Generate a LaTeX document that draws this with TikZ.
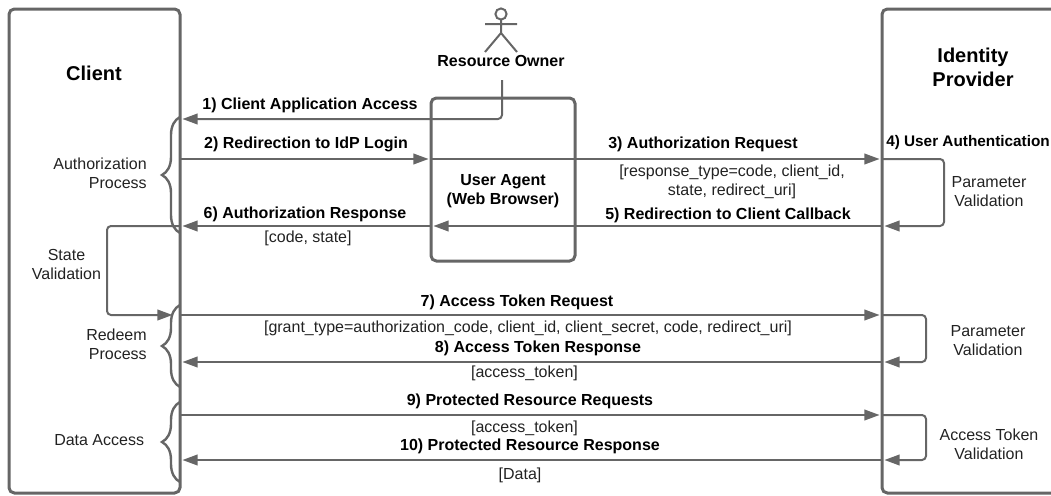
\documentclass[tikz,border=0pt]{standalone}
\usepackage{fontspec}
\setmainfont{Liberation Sans}
\usetikzlibrary{arrows.meta,fit,decorations.pathreplacing}
\definecolor{linegray}{HTML}{666666}
\definecolor{inkgray}{HTML}{222222}

\begin{document}
\begin{tikzpicture}[x=0.75pt,y=-0.75pt,
    box/.style={draw=linegray,line width=2.25pt,rounded corners=4pt,inner sep=0pt,outer sep=0pt},
    flow/.style={draw=linegray,line width=1.5pt,rounded corners=3pt,shorten >=1.8pt,
        -{Triangle[length=11.5pt,width=8pt]}},
    curly/.style={draw=linegray,line width=1.8pt,decorate,
        decoration={brace,amplitude=13.5pt}},
    msg/.style={font=\fontsize{12}{14.25}\selectfont\bfseries,text=black,inner sep=0pt,align=center},
    note/.style={font=\fontsize{12}{14.25}\selectfont,text=inkgray,inner sep=0pt,align=center},
    title/.style={font=\fontsize{15}{18}\selectfont\bfseries,text=black,inner sep=0pt,align=center}]
    \useasboundingbox (0,0) rectangle (1051,496);
    \tikzset{actor/.pic={
        \draw[linegray,line width=1.5pt] (0,14) circle (4.2pt);
        \draw[linegray,line width=1.5pt] (0,20) -- (0,33) (-16,24) -- (16,24) (-16,52) -- (0,33) -- (16,52);
    }}

    \node[box,fit={(9,9) (180,493)}] (client) {};
    \node[box,fit={(882,9) (1075,493)}] (idp) {};
    \node[box,fit={(431,98) (575,261)}] (agent) {};
    \draw (501,0) pic {actor};

    \foreach \name/\y in {rowa/119,rowb/159,rowf/226,rowg/315,rowh/362,rowi/415,rowj/460}{
        \coordinate (\name) at (0,\y);
    }
    \coordinate (ownerout) at (502,80);
    \coordinate (stateleft) at (107,0);
    \coordinate (statein) at (175,315);
    \coordinate (loopa) at (944,0);
    \coordinate (loopb) at (926,0);

    \draw[flow] (ownerout) -- (ownerout |- rowa) -- (client.east |- rowa);
    \draw[flow] (client.east |- rowb) -- (agent.west |- rowb);
    \draw[flow] (agent.west |- rowb) -- (idp.west |- rowb);
    \draw[flow] (idp.west |- rowb) -- (loopa |- rowb) -- (loopa |- rowf) -- (idp.west |- rowf);
    \draw[flow] (idp.west |- rowf) -- (agent.west |- rowf);
    \draw[flow] (agent.west |- rowf) -- (client.east |- rowf);
    \draw[flow] (client.east |- rowf) -- (stateleft |- rowf) -- (stateleft |- rowg) -- (statein);
    \draw[flow] (client.east |- rowg) -- (idp.west |- rowg);
    \draw[flow] (idp.west |- rowg) -- (loopb |- rowg) -- (loopb |- rowh) -- (idp.west |- rowh);
    \draw[flow] (idp.west |- rowh) -- (client.east |- rowh);
    \draw[flow] (client.east |- rowi) -- (idp.west |- rowi);
    \draw[flow] (idp.west |- rowi) -- (loopb |- rowi) -- (loopb |- rowj) -- (idp.west |- rowj);
    \draw[flow] (idp.west |- rowj) -- (client.east |- rowj);

    \foreach \low/\high in {233/117,387/305,482/402}{
        \draw[curly] (180,\low) -- (180,\high);
    }

    \node[title] (clientname) at (94,73) {Client};
    \node[title] (idpname) at (973,67) {Identity\\Provider};
    \node[msg] (ownername) at (501,61) {Resource Owner};
    \node[msg] (agentname) at (503,191.5) {User Agent\\(Web Browser)};

    \node[note,anchor=east,align=right] (authproc) at (147,173) {Authorization\\Process};
    \node[note] (stateval) at (66.5,264.5) {State\\Validation};
    \node[note,anchor=east,align=right] (redeemproc) at (147,344.5) {Redeem\\Process};
    \node[note,anchor=west] (dataacc) at (54,440.5) {Data Access};
    \node[note] (paramvala) at (989,191.5) {Parameter\\Validation};
    \node[note] (paramvalb) at (988,341) {Parameter\\Validation};
    \node[note] (tokenval) at (989,444) {Access Token\\Validation};

    \node[msg] (msga) at (310,105.5) {1) Client Application Access};
    \node[msg] (msgb) at (306,144.5) {2) Redirection to IdP Login};
    \node[msg] (msgc) at (703,144.5) {3) Authorization Request};
    \node[msg,anchor=west,font=\fontsize{11.5}{14}\selectfont\bfseries] (msgd) at (886,143) {4) User Authentication};
    \node[msg] (msge) at (728,215.5) {5) Redirection to Client Callback};
    \node[msg] (msgf) at (305,214.5) {6) Authorization Response};
    \node[msg] (msgg) at (517,302.5) {7) Access Token Request};
    \node[msg] (msgh) at (538,348.5) {8) Access Token Response};
    \node[msg] (msgi) at (530,401.5) {9) Protected Resource Requests};
    \node[msg] (msgj) at (530,446.5) {10) Protected Resource Response};

    \node[note] (argc) at (732,181.5) {[response\_type=code, client\_id,\\state, redirect\_uri]};
    \node[note] (argf) at (308,238) {[code, state]};
    \node[note] (argg) at (528,328) {[grant\_type=authorization\_code, client\_id, client\_secret, code, redirect\_uri]};
    \node[note] (argh) at (524.5,373) {[access\_token]};
    \node[note] (argi) at (524.5,428) {[access\_token]};
    \node[note] (argj) at (520,475.5) {[Data]};
\end{tikzpicture}
\end{document}
